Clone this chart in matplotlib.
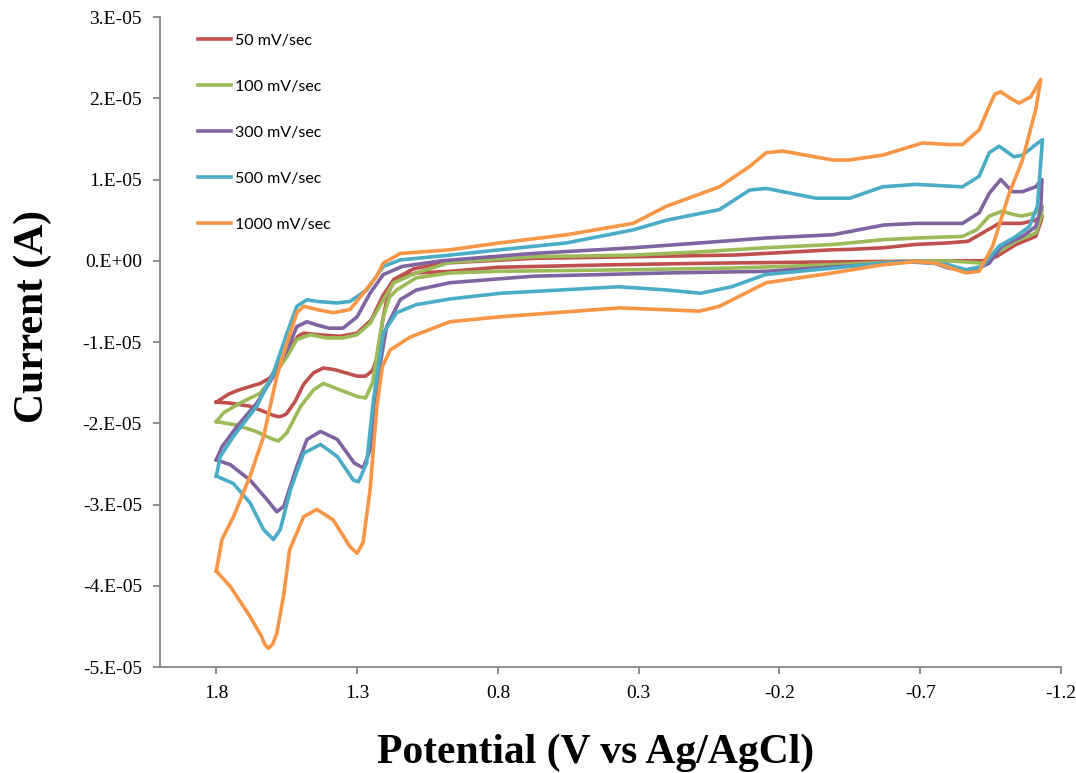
import numpy as np
import matplotlib
matplotlib.use("Agg")
import matplotlib.pyplot as plt
from matplotlib.ticker import FuncFormatter

# potentials (V) and currents (1e-5 A), one closed loop per scan rate
e_50 = [1.80, 1.756, 1.68, 1.62, 1.60, 1.579, 1.565, 1.55, 1.52, 1.49, 1.455, 1.42, 1.38, 1.34, 1.30, 1.27, 1.245,
        1.23, 1.207, 1.19, 1.171, 1.12, 1.09, 0.97, 0.80, 0.40, 0.05, -0.50, -0.85, -0.92, -0.97, -1.04,
        -1.11, -1.13, -1.133,
        -1.11, -1.06, -0.98, -0.92, -0.87, -0.80, -0.68, -0.57, -0.45, -0.39, -0.04, 0.32, 0.67, 1.00,
        1.10, 1.17, 1.21, 1.25, 1.30, 1.36, 1.44, 1.49, 1.51, 1.561, 1.609, 1.644, 1.72, 1.756, 1.80]
i_50 = [-1.74, -1.75, -1.79, -1.87, -1.90, -1.92, -1.91, -1.88, -1.73, -1.52, -1.38, -1.32, -1.34, -1.38, -1.42, -1.42, -1.35,
        -1.20, -0.69, -0.40, -0.27, -0.18, -0.15, -0.13, -0.08, -0.05, -0.03, -0.01, 0.00, 0.00, 0.05, 0.20,
        0.30, 0.50, 0.55,
        0.50, 0.46, 0.46, 0.34, 0.24, 0.22, 0.20, 0.16, 0.14, 0.135, 0.07, 0.05, 0.03, -0.03,
        -0.10, -0.23, -0.44, -0.73, -0.89, -0.93, -0.91, -0.89, -0.93, -1.18, -1.44, -1.51, -1.59, -1.64, -1.74]

e_100 = [1.80, 1.73, 1.66, 1.61, 1.58, 1.55, 1.50, 1.455, 1.42, 1.36, 1.30, 1.27, 1.245, 1.225, 1.207,
         1.185, 1.16, 1.09, 0.97, 0.80, 0.32, -0.03, -0.39, -0.63, -0.80, -0.92, -0.97, -1.04, -1.11,
         -1.13, -1.133,
         -1.11, -1.06, -1.03, -0.99, -0.945, -0.90, -0.85, -0.685, -0.57, -0.45, -0.39, -0.15, 0.08, 0.32,
         0.67, 0.97, 1.09, 1.17, 1.207, 1.254, 1.30, 1.35, 1.41, 1.467, 1.514, 1.549, 1.597, 1.644, 1.715,
         1.774, 1.80]
i_100 = [-1.98, -2.02, -2.10, -2.18, -2.22, -2.12, -1.79, -1.59, -1.51, -1.59, -1.67, -1.69, -1.50, -1.05, -0.69,
         -0.45, -0.36, -0.21, -0.15, -0.13, -0.11, -0.09, -0.05, -0.01, 0.00, -0.03, 0.09, 0.24, 0.34,
         0.55, 0.67,
         0.59, 0.55, 0.57, 0.61, 0.55, 0.38, 0.30, 0.28, 0.26, 0.22, 0.20, 0.16, 0.11, 0.07,
         0.05, -0.02, -0.15, -0.27, -0.48, -0.77, -0.91, -0.95, -0.95, -0.91, -0.97, -1.18, -1.42, -1.63, -1.75,
         -1.87, -1.98]

e_300 = [1.80, 1.75, 1.68, 1.62, 1.585, 1.56, 1.514, 1.478, 1.43, 1.37, 1.31, 1.278, 1.254, 1.23, 1.195,
         1.147, 1.09, 0.97, 0.675, 0.20, -0.15, -0.51, -0.63, -0.75, -0.80, -0.886, -0.945, -0.99, -1.063,
         -1.11, -1.128, -1.132,
         -1.11, -1.063, -1.027, -0.986, -0.945, -0.909, -0.85, -0.685, -0.57, -0.45, -0.39, -0.15, 0.08,
         0.32, 0.675, 1.00, 1.14, 1.207, 1.254, 1.30, 1.35, 1.40, 1.443, 1.478, 1.514, 1.549, 1.597, 1.656,
         1.727, 1.78, 1.80]
i_300 = [-2.45, -2.51, -2.70, -2.94, -3.09, -3.02, -2.53, -2.20, -2.10, -2.20, -2.49, -2.55, -2.33, -1.51, -0.81,
         -0.48, -0.36, -0.27, -0.19, -0.15, -0.13, -0.05, -0.01, -0.03, -0.09, -0.13, -0.03, 0.18, 0.30,
         0.42, 0.63, 1.00,
         0.91, 0.85, 0.85, 1.00, 0.83, 0.59, 0.46, 0.46, 0.44, 0.36, 0.32, 0.28, 0.22,
         0.16, 0.09, 0.00, -0.07, -0.17, -0.40, -0.69, -0.83, -0.83, -0.79, -0.75, -0.81, -1.10, -1.42, -1.75,
         -2.04, -2.29, -2.45]

e_500 = [1.80, 1.74, 1.68, 1.632, 1.597, 1.573, 1.537, 1.49, 1.43, 1.37, 1.313, 1.295, 1.266, 1.242, 1.207,
         1.16, 1.09, 0.97, 0.79, 0.37, 0.20, 0.08, -0.03, -0.15, -0.39, -0.566, -0.685, -0.80, -0.862,
         -0.92, -0.98, -1.04, -1.087, -1.116, -1.134,
         -1.11, -1.063, -1.033, -0.98, -0.945, -0.909, -0.85, -0.685, -0.566, -0.45, -0.33, -0.153, -0.094,
         0.013, 0.20, 0.32, 0.556, 0.793, 0.97, 1.147, 1.207, 1.266, 1.325, 1.372, 1.443, 1.478, 1.514,
         1.549, 1.597, 1.656, 1.739, 1.786, 1.80]
i_500 = [-2.65, -2.74, -2.98, -3.31, -3.43, -3.31, -2.82, -2.37, -2.26, -2.41, -2.70, -2.72, -2.49, -1.71, -0.89,
         -0.64, -0.54, -0.47, -0.40, -0.32, -0.36, -0.40, -0.32, -0.17, -0.09, -0.03, -0.01, -0.05, -0.11,
         -0.07, 0.18, 0.30, 0.42, 0.67, 1.49,
         1.43, 1.30, 1.28, 1.41, 1.33, 1.04, 0.91, 0.94, 0.91, 0.77, 0.77, 0.89, 0.87,
         0.63, 0.50, 0.38, 0.22, 0.135, 0.07, 0.01, -0.07, -0.36, -0.50, -0.52, -0.50, -0.48, -0.56,
         -0.89, -1.38, -1.79, -2.16, -2.41, -2.65]

e_1000 = [1.80, 1.75, 1.68, 1.64, 1.628, 1.615, 1.60, 1.585, 1.56, 1.54, 1.49, 1.443, 1.385, 1.325, 1.30, 1.279,
          1.254, 1.23, 1.21, 1.183, 1.112, 0.97, 0.793, 0.367, 0.084, 0.013, -0.153, -0.388, -0.566, -0.685,
          -0.756, -0.862, -0.909, -0.957, -1.016, -1.063, -1.11, -1.128,
          -1.093, -1.051, -1.02, -0.986, -0.965, -0.945, -0.909, -0.85, -0.803, -0.708, -0.566, -0.448,
          -0.389, -0.212, -0.153, -0.094, 0.013, 0.202, 0.32, 0.556, 0.793, 0.97, 1.147, 1.207, 1.23, 1.278,
          1.325, 1.385, 1.443, 1.49, 1.514, 1.549, 1.585, 1.632, 1.68, 1.739, 1.78, 1.80]
i_1000 = [-3.82, -4.01, -4.38, -4.62, -4.72, -4.77, -4.72, -4.58, -4.10, -3.56, -3.15, -3.06, -3.19, -3.52, -3.60, -3.47,
          -2.82, -1.80, -1.30, -1.10, -0.94, -0.75, -0.69, -0.58, -0.62, -0.56, -0.27, -0.15, -0.05, -0.01,
          -0.03, -0.15, -0.13, 0.18, 0.83, 1.24, 1.86, 2.23,
          2.02, 1.94, 2.00, 2.08, 2.05, 1.90, 1.61, 1.43, 1.43, 1.45, 1.30, 1.24,
          1.24, 1.35, 1.33, 1.16, 0.91, 0.67, 0.46, 0.32, 0.22, 0.135, 0.09, -0.03, -0.19, -0.40,
          -0.60, -0.64, -0.60, -0.56, -0.64, -1.01, -1.42, -2.16, -2.65, -3.15, -3.43, -3.82]

series = [("50 mV/sec", e_50, i_50, "#C0504D"),
          ("100 mV/sec", e_100, i_100, "#9BBB59"),
          ("300 mV/sec", e_300, i_300, "#8064A2"),
          ("500 mV/sec", e_500, i_500, "#4BACC6"),
          ("1000 mV/sec", e_1000, i_1000, "#F79646")]

x_ticks = [1.8, 1.3, 0.8, 0.3, -0.2, -0.7, -1.2]
x_labels = ["1.8", "1.3", "0.8", "0.3", "-0.2", "-0.7", "-1.2"]
y_ticks = [-5e-5, -4e-5, -3e-5, -2e-5, -1e-5, 0.0, 1e-5, 2e-5, 3e-5]

fig = plt.figure(figsize=(10.76, 7.73), dpi=100)
ax = fig.add_axes([0.1487, 0.1371, 0.8374, 0.8409])

for name, e, i, col in series:
    ax.plot(e, np.array(i) * 1e-5, color=col, linewidth=2.6, label=name,
            solid_joinstyle="round")

ax.set_xlim(2.0, -1.2)
ax.set_ylim(-5e-5, 3e-5)
ax.set_xticks(x_ticks)
ax.set_xticklabels(x_labels)
ax.set_yticks(y_ticks)
ax.yaxis.set_major_formatter(FuncFormatter(lambda v, p: f"{v:#.0E}"))

for s in ["top", "right"]:
    ax.spines[s].set_visible(False)
for s in ["left", "bottom"]:
    ax.spines[s].set_color("#868686")
    ax.spines[s].set_linewidth(1.3)
ax.tick_params(axis="both", direction="out", length=5, width=1.3, color="#868686",
               labelsize=14, pad=8)
for lab in ax.get_xticklabels() + ax.get_yticklabels():
    lab.set_fontfamily("Liberation Serif")

ax.set_xlabel("Potential (V vs Ag/AgCl)", fontsize=30, fontweight="bold",
              fontfamily="Liberation Serif")
ax.xaxis.set_label_coords(0.483, -0.103)
ax.set_ylabel("Current (A)", fontsize=30, fontweight="bold", fontfamily="Liberation Serif")
ax.yaxis.set_label_coords(-0.12, 0.54)

ax.legend(loc="upper left", bbox_to_anchor=(0.042, 0.974), frameon=False,
          prop={"family": "Lato", "size": 11.5}, handlelength=2.1, handletextpad=0.2,
          labelspacing=1.99, borderpad=0, borderaxespad=0)

plt.savefig("out.png", dpi=100)
